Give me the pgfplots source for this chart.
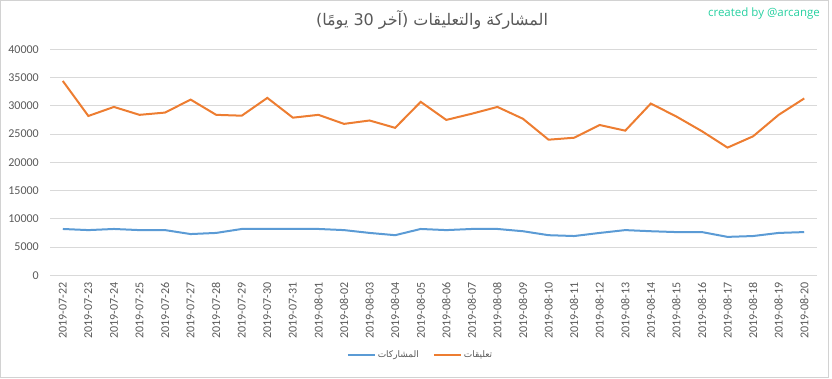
\documentclass[border=0pt]{standalone}
\usepackage{fontspec}
\usepackage{pgfplots}
\pgfplotsset{compat=1.18}
\usepackage{pgfplotstable}
\setmainfont{Carlito}
\newfontfamily\arabicfont[Script=Arabic]{DejaVu Sans}
\newfontfamily\creditfont{Open Sans}
\TeXXeTstate=1
\definecolor{exblue}{HTML}{5B9BD5}
\definecolor{exorange}{HTML}{ED7D31}
\definecolor{txtgray}{HTML}{595959}
\definecolor{gridgray}{HTML}{D9D9D9}
\definecolor{credit}{RGB}{38,208,160}

\pgfplotstableread{
x y
0 8200
1 8000
2 8200
3 8000
4 8000
5 7300
6 7500
7 8200
8 8200
9 8200
10 8200
11 8000
12 7500
13 7100
14 8200
15 8000
16 8200
17 8200
18 7800
19 7100
20 6950
21 7500
22 8000
23 7800
24 7650
25 7650
26 6800
27 6950
28 7500
29 7650
}\shares

\pgfplotstableread{
x y
0 34400
1 28200
2 29800
3 28400
4 28800
5 31100
6 28400
7 28250
8 31400
9 27900
10 28400
11 26800
12 27400
13 26100
14 30700
15 27500
16 28600
17 29800
18 27700
19 24000
20 24350
21 26600
22 25600
23 30400
24 28100
25 25500
26 22600
27 24600
28 28400
29 31300
}\comments

\begin{document}
\begin{tikzpicture}
\useasboundingbox (0pt,0pt) rectangle (832pt,378pt);
\draw[color=gray!35, line width=0.8pt] (0.5pt,0.5pt) rectangle (828pt,377.5pt);
\begin{axis}[
  at={(50pt,102.7pt)}, anchor=south west,
  width=767pt, height=226pt, scale only axis,
  xmin=-0.5, xmax=29.5, ymin=0, ymax=40000,
  ytick={0,5000,...,40000},
  scaled y ticks=false,
  yticklabel={\pgfmathprintnumber[1000 sep={},assume math mode=true]{\tick}},
  xtick={0,...,29},
  xticklabels={2019-07-22,2019-07-23,2019-07-24,2019-07-25,2019-07-26,2019-07-27,2019-07-28,2019-07-29,2019-07-30,2019-07-31,2019-08-01,2019-08-02,2019-08-03,2019-08-04,2019-08-05,2019-08-06,2019-08-07,2019-08-08,2019-08-09,2019-08-10,2019-08-11,2019-08-12,2019-08-13,2019-08-14,2019-08-15,2019-08-16,2019-08-17,2019-08-18,2019-08-19,2019-08-20},
  xticklabel style={rotate=90, anchor=east, inner sep=0pt, font=\fontsize{12}{13}\selectfont, text=txtgray},
  xticklabel shift=7pt,
  yticklabel style={anchor=east, inner sep=0pt, font=\fontsize{12}{13}\selectfont, text=txtgray},
  yticklabel shift=11pt,
  ymajorgrids,
  grid style={color=gridgray, line width=0.8pt},
  axis line style={draw=none},
  major tick style={draw=none},
  legend columns=2,
  legend style={at={(axis description cs:0.483,-0.3527)}, anchor=center, draw=none, fill=none,
    font=\arabicfont\fontsize{9}{10}\selectfont, text=txtgray,
    /tikz/every even column/.append style={column sep=12pt}},
  legend image code/.code={\draw[#1, line width=2pt] (0pt,0pt) -- (27pt,0pt);},
]
\addplot[exblue, line width=2pt, mark=none] table[x=x,y=y] {\shares};
\addlegendentry{\beginR المشاركات\endR}
\addplot[exorange, line width=2pt, mark=none] table[x=x,y=y] {\comments};
\addlegendentry{\beginR تعليقات\endR}
\end{axis}
\node[text=txtgray, font=\arabicfont\fontsize{16}{18}\selectfont] at (432pt,358pt) {\beginR المشاركة والتعليقات (آخر \beginL 30\endL\ يومًا)\endR};
\node[text=credit, font=\creditfont\fontsize{11.5}{12}\selectfont] at (764pt,364pt) {created by @arcange};
\end{tikzpicture}
\end{document}
